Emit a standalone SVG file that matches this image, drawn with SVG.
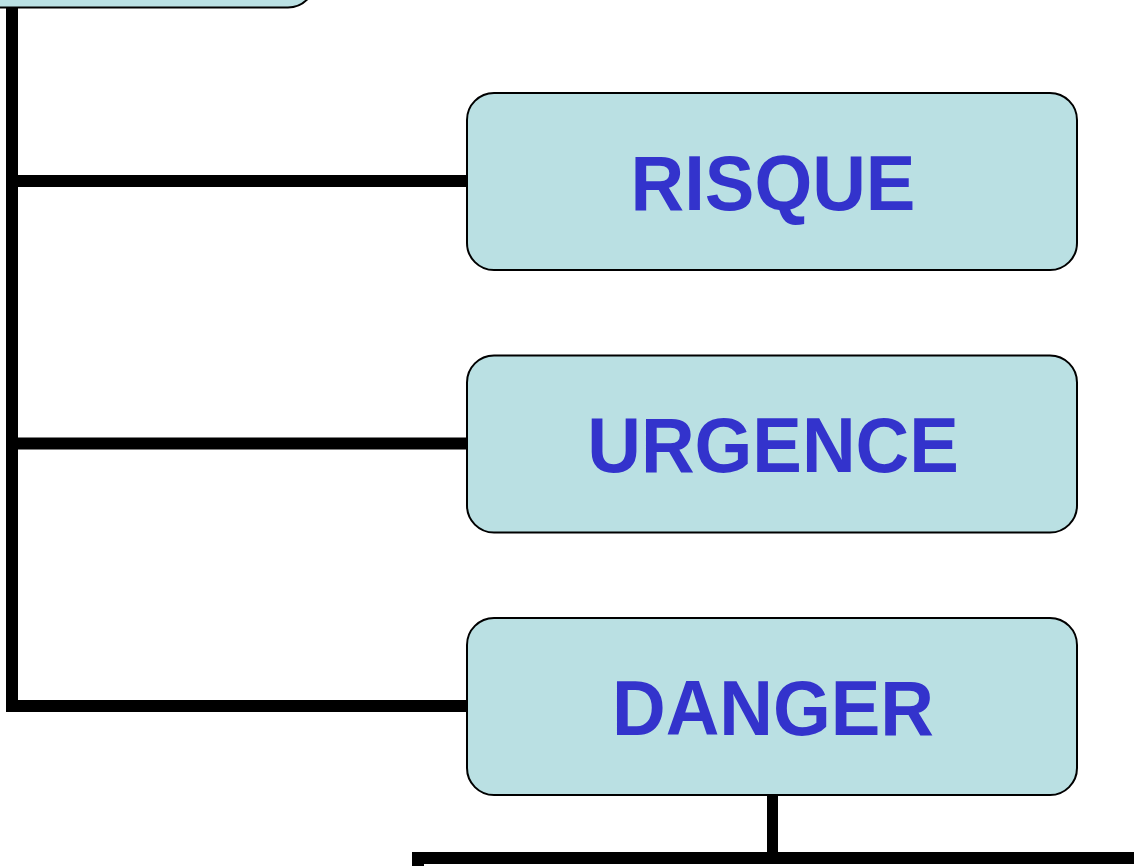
<svg xmlns="http://www.w3.org/2000/svg" width="1134" height="866" viewBox="0 0 1134 866">
<style>
.box{fill:#BAE0E3;stroke:#000;stroke-width:2}
.lbl{font-family:"Liberation Sans",Arial,sans-serif;font-weight:bold;font-size:77px;fill:#3333CC;text-anchor:middle}
.conn{stroke:#000;stroke-width:12;fill:none;stroke-linecap:butt}
</style>
<rect width="1134" height="866" fill="#fff"/>
<g id="connectors">
<path class="conn" d="M12 7 V712"/>
<path class="conn" d="M6 181 H467"/>
<path class="conn" d="M6 443.5 H467"/>
<path class="conn" d="M6 706 H467"/>
<path class="conn" d="M772.5 795 V852" style="stroke-width:11"/>
</g>
<g id="node-top">
<rect class="box" x="-40" y="-200" width="355" height="207.5" rx="27"/>
</g>
<g id="node-risque">
<rect class="box" x="467" y="93" width="610" height="177" rx="27"/>
<text class="lbl" transform="translate(773 210) scale(0.965 1)">RISQUE</text>
</g>
<g id="node-urgence">
<rect class="box" x="467" y="355.5" width="610" height="177" rx="27"/>
<text class="lbl" transform="translate(773 472) scale(0.965 1)">URGENCE</text>
</g>
<g id="node-danger">
<rect class="box" x="467" y="618" width="610" height="177" rx="27"/>
<text class="lbl" transform="translate(773 735) scale(0.965 1)">DANGER</text>
</g>
<g id="node-bottom">
<rect x="418" y="858" width="760" height="100" fill="#fff" stroke="#000" stroke-width="12"/>
</g>
</svg>
